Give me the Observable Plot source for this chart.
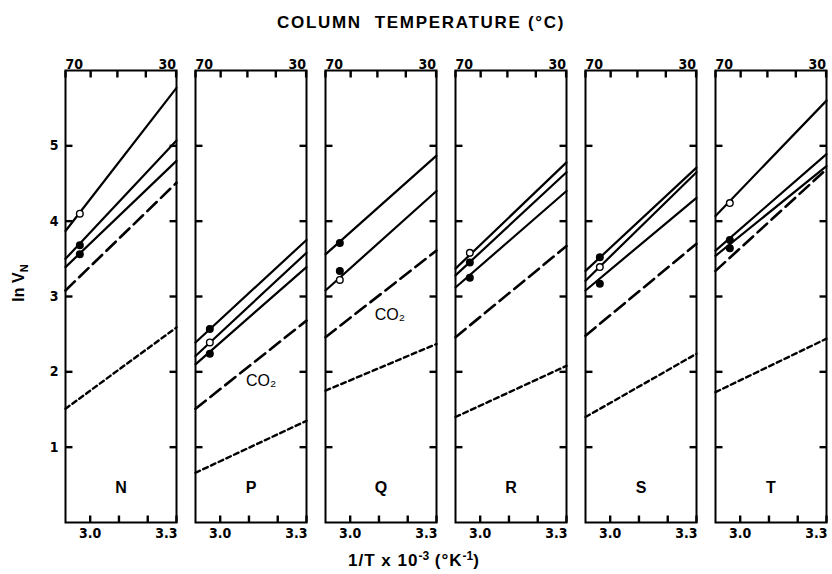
<!DOCTYPE html>
<html><head><meta charset="utf-8">
<script src="https://cdn.jsdelivr.net/npm/d3@7"></script>
<script src="https://cdn.jsdelivr.net/npm/@observablehq/plot@0.6"></script>
<style>
body{margin:0;background:#fff;}
#wrap{position:relative;width:832px;height:574px;font-family:"Liberation Sans",Arial,sans-serif;color:#000;}
#wrap svg{position:absolute;left:0;top:0;}
.title{position:absolute;left:277px;top:14px;font-size:17px;line-height:1;font-weight:bold;letter-spacing:1.7px;white-space:nowrap;}
.xlab{position:absolute;left:264px;width:300px;top:550px;text-align:center;font-size:17px;line-height:1;font-weight:bold;letter-spacing:1px;white-space:nowrap;}
.xlab sup{font-size:12px;vertical-align:6px;letter-spacing:0;}
.ylab{position:absolute;left:20px;top:283px;transform:translate(-50%,-50%) rotate(-90deg);font-size:16px;line-height:1;font-weight:bold;white-space:nowrap;}
.ylab sub{font-size:11px;vertical-align:-4px;}
</style></head><body>
<div id="wrap">
  <div class="title">COLUMN&nbsp; TEMPERATURE (°C)</div>
  <div class="ylab">ln V<sub>N</sub></div>
  <div class="xlab">1/T x 10<sup>-3</sup> (°K<sup>-1</sup>)</div>
</div>
<script>
// ---- data ----
const panels = ["N", "P", "Q", "R", "S", "T"];
// ln VN at the left edge (70 °C) and right edge (1/T = 3.3) of each panel
const solidA_left  = [3.87, 2.39, 3.56, 3.37, 3.34, 4.07];
const solidA_right = [5.77, 3.75, 4.87, 4.78, 4.71, 5.60];
const solidB_left  = [3.50, 2.21, 3.08, 3.28, 3.21, 3.61];
const solidB_right = [5.07, 3.58, 4.40, 4.65, 4.65, 4.89];
const solidC_left  = [3.39, 2.10, null, 3.12, 3.08, 3.54];
const solidC_right = [4.80, 3.39, null, 4.40, 4.31, 4.73];
const co2_left     = [3.08, 1.51, 2.46, 2.46, 2.48, 3.34];
const co2_right    = [4.51, 2.68, 3.61, 3.67, 3.70, 4.69];
const dotted_left  = [1.51, 0.66, 1.75, 1.40, 1.40, 1.73];
const dotted_right = [2.59, 1.35, 2.37, 2.08, 2.24, 2.44];

// measured points (about 64 °C)
const pointX = 2.964;
const pointPanel  = ["N","N","N","P","P","P","Q","Q","Q","R","R","R","S","S","S","T","T","T"];
const pointY      = [4.10,3.68,3.56, 2.57,2.39,2.24, 3.71,3.34,3.22, 3.58,3.45,3.25, 3.52,3.39,3.17, 4.24,3.75,3.64];
const pointFilled = [false,true,true, true,false,true, true,true,false, false,true,true, true,false,true, false,true,true];

// CO2 annotations
const co2Panel = ["P", "Q"];
const co2X = [3.142, 3.138];
const co2Y = [1.88, 2.76];

// axes
const yTicks = [1, 2, 3, 4, 5];
const tempTicks = [70, 60, 50, 40, 30];     // °C, top axis
const tempLabels = ["70", "30"];
const invTTicks = [3.0, 3.1, 3.2, 3.3];     // 1/T x 10^-3, bottom axis
const invTLabels = ["3.0", "3.3"];

// ---- layout ----
const W = 832, H = 574, mL = 62, mR = 4, mT = 70, mB = 52, PAD = 0.148;
const yDomain = [0, 6];
const toInvT = c => 1000 / (c + 273.15);
const xLeft = toInvT(70), xRight = 3.3;
// tick length (px) converted to each scale's units
const bandW = (W - mL - mR) / (panels.length - PAD) * (1 - PAD);
const TICK = 7;
const tX = TICK * (xRight - xLeft) / bandW;
const tY = TICK * (yDomain[1] - yDomain[0]) / (H - mT - mB);

// ---- build tables ----
const seriesDefs = [
  ["A", "solid", solidA_left, solidA_right],
  ["B", "solid", solidB_left, solidB_right],
  ["C", "solid", solidC_left, solidC_right],
  ["D", "dash", co2_left, co2_right],
  ["E", "dot", dotted_left, dotted_right]
];
const rows = [];
panels.forEach((p, i) => {
  seriesDefs.forEach(([id, style, Lv, Rv]) => {
    if (Lv[i] == null) return;
    rows.push({fx: p, id: p + id, style, x: xLeft, y: Lv[i]});
    rows.push({fx: p, id: p + id, style, x: xRight, y: Rv[i]});
  });
});
const points = pointY.map((y, i) => ({fx: pointPanel[i], x: pointX, y, filled: pointFilled[i]}));
const co2 = co2Panel.map((p, i) => ({fx: p, x: co2X[i], y: co2Y[i]}));

// inward tick segments, drawn as two-point lines in every panel
const tickRows = [];
panels.forEach(p => {
  yTicks.forEach(v => {
    tickRows.push({fx: p, id: `${p}L${v}`, x: xLeft, y: v}, {fx: p, id: `${p}L${v}`, x: xLeft + tX, y: v});
    tickRows.push({fx: p, id: `${p}R${v}`, x: xRight - tX, y: v}, {fx: p, id: `${p}R${v}`, x: xRight, y: v});
  });
  tempTicks.map(toInvT).forEach((v, j) => {
    tickRows.push({fx: p, id: `${p}T${j}`, x: v, y: yDomain[1]}, {fx: p, id: `${p}T${j}`, x: v, y: yDomain[1] - tY});
  });
  invTTicks.forEach((v, j) => {
    tickRows.push({fx: p, id: `${p}B${j}`, x: v, y: yDomain[0]}, {fx: p, id: `${p}B${j}`, x: v, y: yDomain[0] + tY});
  });
});

const topLabL = panels.map(p => ({fx: p, x: toInvT(70), t: tempLabels[0]}));
const topLabR = panels.map(p => ({fx: p, x: toInvT(30), t: tempLabels[1]}));
const botLabL = panels.map(p => ({fx: p, x: invTTicks[0], t: invTLabels[0]}));
const botLabR = panels.map(p => ({fx: p, x: invTTicks[3], t: invTLabels[1]}));
const yLab = yTicks.map(v => ({fx: panels[0], v}));

const tickFont = "'Liberation Sans Narrow','DejaVu Sans Condensed',sans-serif";
const labStyle = {fontSize: 14, fontWeight: "bold", fontFamily: tickFont, fill: "black"};

const chart = Plot.plot({
  width: W, height: H,
  marginLeft: mL, marginRight: mR, marginTop: mT, marginBottom: mB,
  style: {background: "white", color: "black", fontFamily: "'Liberation Sans',sans-serif"},
  fx: {domain: panels, paddingInner: PAD, paddingOuter: 0, axis: null, label: null},
  x: {domain: [xLeft, xRight], axis: null},
  y: {domain: yDomain, axis: null},
  marks: [
    Plot.line(rows.filter(d => d.style === "dot"), {x: "x", y: "y", z: "id", fx: "fx", stroke: "black", strokeWidth: 2.4, strokeDasharray: "5,3.5"}),
    Plot.line(rows.filter(d => d.style === "dash"), {x: "x", y: "y", z: "id", fx: "fx", stroke: "black", strokeWidth: 2.6, strokeDasharray: "13,6"}),
    Plot.line(rows.filter(d => d.style === "solid"), {x: "x", y: "y", z: "id", fx: "fx", stroke: "black", strokeWidth: 2.2}),
    Plot.dot(points, {x: "x", y: "y", fx: "fx", r: 3.3, fill: d => d.filled ? "black" : "white", stroke: "black", strokeWidth: 1.4}),
    Plot.text(co2, {x: "x", y: "y", fx: "fx", text: () => "CO₂", fontSize: 16, fill: "black"}),
    // inward ticks
    Plot.line(tickRows, {x: "x", y: "y", z: "id", fx: "fx", stroke: "black", strokeWidth: 2.4, strokeLinecap: "butt"}),
    // y labels on first panel
    Plot.text(yLab, {y: "v", fx: "fx", text: d => String(d.v), frameAnchor: "left", textAnchor: "end", dx: -7, ...labStyle}),
    // top temperature labels
    Plot.text(topLabL, {x: "x", fx: "fx", text: "t", frameAnchor: "top", textAnchor: "start", dy: -11, ...labStyle}),
    Plot.text(topLabR, {x: "x", fx: "fx", text: "t", frameAnchor: "top", textAnchor: "end", dy: -11, ...labStyle}),
    // bottom labels
    Plot.text(botLabL, {x: "x", fx: "fx", text: "t", frameAnchor: "bottom", textAnchor: "middle", dy: 15, ...labStyle}),
    Plot.text(botLabR, {x: "x", fx: "fx", text: "t", frameAnchor: "bottom", textAnchor: "end", dy: 15, dx: 1, ...labStyle}),
    // panel letters
    Plot.text(panels, {fx: d => d, text: d => d, frameAnchor: "bottom", dy: -30, fontSize: 16, fontWeight: "bold", fill: "black"}),
    Plot.frame({stroke: "black", strokeWidth: 2})
  ]
});
document.getElementById("wrap").prepend(chart);
</script>
</body></html>
